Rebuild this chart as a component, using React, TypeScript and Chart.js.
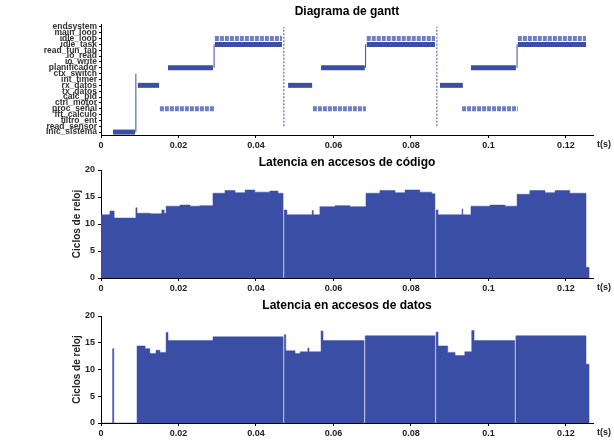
import React, { useEffect, useRef } from "react";
import { Chart, registerables } from "chart.js";

Chart.register(...registerables);

// ---------- data ----------
const LANES = [
  "Inic_sistema", "read_sensor", "filtro_ent", "fft_calculo", "proc_señal",
  "ctrl_motor", "calc_pid", "tx_datos", "rx_datos", "int_timer",
  "ctx_switch", "planificador", "io_write", "io_read", "read_fun_tab",
  "idle_task", "idle_loop", "main_loop", "endsystem",
];

const GANTT_ROW = [0, 8, 4, 11, 16, 15, 8, 4, 11, 16, 15, 8, 4, 11, 16, 15];
const GANTT_START = [0.0031, 0.0095, 0.0152, 0.0173, 0.0294, 0.0294, 0.0483, 0.0547, 0.0568, 0.0686, 0.0686, 0.0875, 0.0932, 0.0955, 0.1076, 0.1076];
const GANTT_END = [0.0088, 0.015, 0.0294, 0.0289, 0.0467, 0.0467, 0.0545, 0.0684, 0.0681, 0.0862, 0.0862, 0.0934, 0.1076, 0.1071, 0.1252, 0.1252];

const SWITCH_T = [0.009, 0.0472, 0.0867, 0.0292, 0.0683, 0.1074];
const SWITCH_FROM = [0, 1, 1, 11, 11, 11];
const SWITCH_TO = [10, 18, 18, 15, 15, 15];

const CODE_T = [0, 0.0023, 0.0034, 0.009, 0.0093, 0.0126, 0.0157, 0.0163, 0.0168, 0.0204, 0.023, 0.0255, 0.0289, 0.032, 0.0346, 0.0372, 0.0397, 0.0436, 0.0457, 0.047, 0.0473, 0.048, 0.0545, 0.0548, 0.0565, 0.0604, 0.0643, 0.0684, 0.072, 0.0759, 0.0785, 0.0823, 0.0854, 0.0862, 0.0865, 0.087, 0.0932, 0.0934, 0.0955, 0.1004, 0.1043, 0.1074, 0.1107, 0.1146, 0.1172, 0.121, 0.1252, 0.126];
const CODE_V = [11.7, 12.4, 11.1, 13.0, 12.0, 11.9, 12.6, 12.0, 13.3, 13.5, 13.3, 13.4, 15.7, 16.2, 15.8, 16.3, 15.9, 16.1, 15.7, 0, 12.6, 11.7, 12.5, 11.7, 13.2, 13.4, 13.2, 15.7, 16.2, 15.8, 16.3, 15.9, 15.6, 0, 12.6, 11.7, 12.8, 11.7, 13.3, 13.5, 13.3, 15.5, 16.2, 15.8, 16.2, 15.7, 2.0, 0];

const DATA_T = [0, 0.003, 0.0033, 0.0093, 0.0114, 0.0126, 0.0142, 0.0152, 0.0168, 0.0173, 0.0289, 0.047, 0.0473, 0.0477, 0.0501, 0.0514, 0.0534, 0.0537, 0.0568, 0.0573, 0.0679, 0.0682, 0.0862, 0.0865, 0.087, 0.0895, 0.0914, 0.0939, 0.0957, 0.0963, 0.1068, 0.1071, 0.1252, 0.126];
const DATA_V = [0, 13.9, 0, 14.4, 13.9, 13.0, 13.6, 13.2, 16.9, 15.4, 16.1, 0, 16.5, 13.5, 13.0, 13.3, 14.0, 13.3, 17.2, 15.4, 0, 16.3, 0, 17.0, 14.4, 13.2, 12.6, 13.3, 17.3, 15.4, 0, 16.3, 11.0, 0];

const X_TICKS = [0, 0.02, 0.04, 0.06, 0.08, 0.1, 0.12];
const X_TICK_LABELS = ["0", "0.02", "0.04", "0.06", "0.08", "0.1", "0.12"];
const Y_TICKS = [0, 5, 10, 15, 20];

const TITLES = ["Diagrama de gantt", "Latencia en accesos de código", "Latencia en accesos de datos"];
const Y_TITLE = "Ciclos de reloj";
const X_UNIT = "t(s)";

// ---------- style ----------
const BLUE = "#3b4ea5";
const LIGHT_BLUE = "#6f7fc4";
const FONT = "'Liberation Sans', Arial, sans-serif";
const X_MAX = 0.127;

const unitPlugin = {
  id: "unitLabel",
  afterDraw(chart: any) {
    const { ctx, chartArea } = chart;
    ctx.save();
    ctx.fillStyle = "#222";
    ctx.font = `bold 9px ${FONT}`;
    ctx.textBaseline = "top";
    ctx.textAlign = "left";
    ctx.fillText(X_UNIT, chartArea.right + 4, chartArea.bottom + 5);
    ctx.restore();
  },
};

function xScale(height: number) {
  return {
    type: "linear",
    min: 0,
    max: X_MAX,
    afterBuildTicks: (s: any) => {
      s.ticks = X_TICKS.map((v) => ({ value: v }));
    },
    afterFit: (s: any) => {
      s.height = height;
    },
    ticks: {
      autoSkip: false,
      maxRotation: 0,
      padding: 2,
      color: "#222",
      font: { family: FONT, size: 9, weight: "bold" },
      callback: (_v: any, i: number) => X_TICK_LABELS[i],
    },
    grid: { drawOnChartArea: false, tickLength: 3, color: "#000" },
    border: { color: "#000", width: 1 },
  };
}

function titleOpt(text: string, top: number, bottom: number) {
  return {
    display: true,
    text,
    fullSize: false,
    color: "#000",
    font: { family: FONT, size: 12, weight: "bold", lineHeight: 1 },
    padding: { top, bottom },
  };
}

function ganttConfig(): any {
  const datasets: any[] = [];
  SWITCH_T.forEach((t, i) => {
    datasets.push({
      data: [
        { x: t, y: SWITCH_FROM[i] },
        { x: t, y: SWITCH_TO[i] },
      ],
      borderColor: BLUE,
      borderWidth: 1,
      borderDash: i === 1 || i === 2 ? [2, 1.5] : [],
      pointRadius: 0,
    });
  });
  GANTT_ROW.forEach((r, i) => {
    const striped = r === 4 || r === 16;
    datasets.push({
      data: [
        { x: GANTT_START[i], y: r },
        { x: GANTT_END[i], y: r },
      ],
      borderColor: striped ? LIGHT_BLUE : BLUE,
      borderWidth: 5,
      borderDash: striped ? [4, 1] : [],
      borderCapStyle: "butt",
      pointRadius: 0,
    });
  });
  return {
    type: "line",
    data: { datasets },
    options: {
      animation: false,
      responsive: false,
      layout: { padding: { left: 4, right: 21, top: 0, bottom: 0 } },
      plugins: {
        legend: { display: false },
        tooltip: { enabled: false },
        title: titleOpt(TITLES[0], 6, 6),
      },
      scales: {
        x: xScale(17),
        y: {
          type: "linear",
          min: -0.5,
          max: LANES.length - 0.5,
          afterBuildTicks: (s: any) => {
            s.ticks = LANES.map((_l, i) => ({ value: i }));
          },
          afterFit: (s: any) => {
            s.width = 97;
          },
          ticks: {
            autoSkip: false,
            padding: 2,
            color: "#333",
            font: { family: FONT, size: 8.5, weight: "bold" },
            callback: (_v: any, i: number) => LANES[i],
          },
          grid: { drawOnChartArea: false, tickLength: 2, color: "#000" },
          border: { color: "#000", width: 1 },
        },
      },
    },
    plugins: [unitPlugin],
  };
}

function latencyConfig(ts: number[], vs: number[], title: string, top: number, bottom: number, xh: number): any {
  return {
    type: "line",
    data: {
      datasets: [
        {
          data: ts.map((t, i) => ({ x: t, y: vs[i] })),
          stepped: true,
          fill: "origin",
          backgroundColor: BLUE,
          borderColor: BLUE,
          borderWidth: 0.5,
          pointRadius: 0,
        },
      ],
    },
    options: {
      animation: false,
      responsive: false,
      layout: { padding: { left: 71, right: 21, top: 0, bottom: 0 } },
      plugins: {
        legend: { display: false },
        tooltip: { enabled: false },
        title: titleOpt(title, top, bottom),
      },
      scales: {
        x: xScale(xh),
        y: {
          type: "linear",
          min: 0,
          max: 20,
          afterBuildTicks: (s: any) => {
            s.ticks = Y_TICKS.map((v) => ({ value: v }));
          },
          afterFit: (s: any) => {
            s.width = 30;
          },
          title: {
            display: true,
            text: Y_TITLE,
            color: "#222",
            padding: 0,
            font: { family: FONT, size: 10, weight: "bold" },
          },
          ticks: {
            padding: 3,
            color: "#222",
            font: { family: FONT, size: 9, weight: "bold" },
          },
          grid: { drawOnChartArea: false, tickLength: 3, color: "#000" },
          border: { color: "#000", width: 1 },
        },
      },
    },
    plugins: [unitPlugin],
  };
}

function ChartCanvas({ config, top, height }: { config: () => any; top: number; height: number }) {
  const ref = useRef<HTMLCanvasElement | null>(null);
  useEffect(() => {
    if (!ref.current) return;
    const chart = new Chart(ref.current, config());
    return () => chart.destroy();
  }, []);
  return (
    <canvas
      ref={ref}
      width={614}
      height={height}
      style={{ position: "absolute", left: 0, top, width: 614, height, display: "block" }}
    />
  );
}

export default function App() {
  return (
    <div style={{ position: "absolute", left: 0, top: 0, width: 614, height: 442, background: "#fff", overflow: "hidden" }}>
      <ChartCanvas config={ganttConfig} top={0} height={152} />
      <ChartCanvas config={() => latencyConfig(CODE_T, CODE_V, TITLES[1], 5, 1, 18)} top={152} height={144} />
      <ChartCanvas config={() => latencyConfig(DATA_T, DATA_V, TITLES[2], 4, 4, 19)} top={296} height={146} />
    </div>
  );
}
